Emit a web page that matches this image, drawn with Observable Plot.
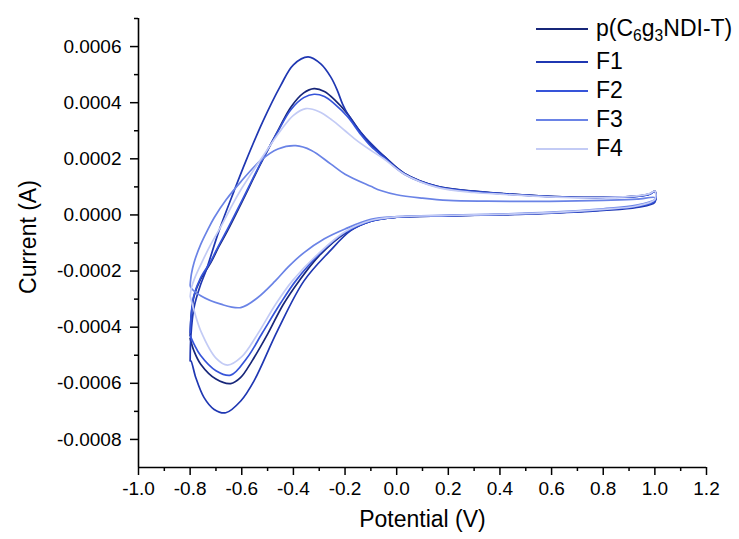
<!DOCTYPE html>
<html>
<head>
<meta charset="utf-8">
<script src="https://cdn.jsdelivr.net/npm/d3@7"></script>
<script src="https://cdn.jsdelivr.net/npm/@observablehq/plot@0.6"></script>
<style>
  html, body { margin: 0; padding: 0; background: #fff; }
  #wrap { position: relative; width: 739px; height: 539px; font-family: "Liberation Sans", Arial, sans-serif; }
  #legend { position: absolute; left: 536px; top: 14px; font-size: 23px; color: #000; }
  #legend .row { display: flex; align-items: center; height: 29px; white-space: nowrap; }
  #legend .row.first { margin-bottom: 4px; }
  #legend .sw { display: inline-block; width: 52px; height: 2px; margin-right: 8px; }
  #legend sub { font-size: 0.68em; vertical-align: -0.3em; line-height: 0; }
</style>
</head>
<body>
<div id="wrap"><div id="legend"></div></div>
<script>
// ---- series names & colours ----
const seriesNames = ["p(C6g3NDI-T)", "F1", "F2", "F3", "F4"];
const seriesLegend = ["p(C<sub>6</sub>g<sub>3</sub>NDI-T)", "F1", "F2", "F3", "F4"];
const seriesColors = ["#172679", "#1f37b2", "#3654d9", "#6a83e6", "#c3cbf5"];

// ---- ticks ----
const xMajor = [-1.0, -0.8, -0.6, -0.4, -0.2, 0.0, 0.2, 0.4, 0.6, 0.8, 1.0, 1.2];
const xMinor = [-0.9, -0.7, -0.5, -0.3, -0.1, 0.1, 0.3, 0.5, 0.7, 0.9, 1.1];
const yMajor = [-0.0008, -0.0006, -0.0004, -0.0002, 0.0, 0.0002, 0.0004, 0.0006];
const yMinor = [-0.0007, -0.0005, -0.0003, -0.0001, 0.0001, 0.0003, 0.0005, 0.0007];

// ---- p(C6g3NDI-T) ----
const pUpE = [-0.800,-0.795,-0.785,-0.760,-0.720,-0.690,-0.655,-0.600,-0.527,-0.460,-0.410,-0.360,-0.320,-0.280,-0.240,-0.190,-0.140,-0.100,-0.050,0.030,0.157,0.300,0.415,0.550,0.673,0.800,0.930,0.980,1.000];
const pUpI = [-4.3e-4,-3.5e-4,-2.9e-4,-2.3e-4,-1.7e-4,-1.15e-4,-5.6e-5,4.5e-5,1.82e-4,3.0e-4,3.84e-4,4.35e-4,4.5e-4,4.4e-4,4.1e-4,3.6e-4,2.95e-4,2.5e-4,2.1e-4,1.48e-4,1.02e-4,8.5e-5,7.6e-5,6.8e-5,6.4e-5,6.3e-5,6.7e-5,7.5e-5,8.5e-5];
const pLoE = [1.000,0.930,0.800,0.600,0.400,0.200,0.000,-0.100,-0.200,-0.300,-0.378,-0.440,-0.500,-0.560,-0.605,-0.643,-0.700,-0.759,-0.785,-0.800];
const pLoI = [5.0e-5,3.0e-5,1.8e-5,7e-6,1e-6,-3e-6,-8e-6,-2.2e-5,-6.5e-5,-1.45e-4,-2.35e-4,-3.2e-4,-4.25e-4,-5.2e-4,-5.8e-4,-6.01e-4,-5.85e-4,-5.32e-4,-4.85e-4,-4.4e-4];

// ---- F1 ----
const f1UpE = [-0.800,-0.797,-0.785,-0.760,-0.739,-0.688,-0.630,-0.585,-0.520,-0.450,-0.400,-0.343,-0.294,-0.255,-0.230,-0.210,-0.190,-0.140,-0.050,0.030,0.157,0.300,0.415,0.550,0.673,0.800,0.930,0.980,1.000];
const f1UpI = [-5.2e-4,-4.3e-4,-3.3e-4,-2.5e-4,-2.0e-4,-5.6e-5,8.5e-5,1.9e-4,3.3e-4,4.6e-4,5.35e-4,5.63e-4,5.38e-4,4.91e-4,4.44e-4,3.96e-4,3.6e-4,2.95e-4,2.1e-4,1.48e-4,1.02e-4,8.4e-5,7.5e-5,6.8e-5,6.4e-5,6.3e-5,6.6e-5,7.4e-5,8.3e-5];
const f1LoE = [1.000,0.930,0.800,0.600,0.400,0.200,0.000,-0.100,-0.178,-0.260,-0.359,-0.462,-0.553,-0.604,-0.662,-0.707,-0.746,-0.778,-0.797,-0.800];
const f1LoI = [4.5e-5,2.7e-5,1.6e-5,6e-6,0,-3e-6,-8e-6,-2.2e-5,-5.6e-5,-1.3e-4,-2.35e-4,-4.13e-4,-5.92e-4,-6.63e-4,-7.05e-4,-6.93e-4,-6.51e-4,-5.8e-4,-5.2e-4,-5.2e-4];

// ---- F2 ----
const f2UpE = [-0.800,-0.795,-0.785,-0.760,-0.720,-0.690,-0.655,-0.600,-0.527,-0.460,-0.410,-0.360,-0.320,-0.280,-0.240,-0.190,-0.140,-0.100,-0.050,0.030,0.157,0.300,0.415,0.550,0.673,0.800,0.930,0.980,1.000];
const f2UpI = [-4.2e-4,-3.45e-4,-2.85e-4,-2.25e-4,-1.65e-4,-1.1e-4,-5.0e-5,5.0e-5,1.85e-4,2.98e-4,3.75e-4,4.18e-4,4.3e-4,4.22e-4,3.95e-4,3.5e-4,2.88e-4,2.45e-4,2.05e-4,1.45e-4,1.0e-4,8.3e-5,7.5e-5,6.7e-5,6.3e-5,6.2e-5,6.6e-5,7.4e-5,8.4e-5];
const f2LoE = [1.000,0.930,0.800,0.600,0.400,0.200,0.000,-0.100,-0.200,-0.300,-0.391,-0.450,-0.520,-0.580,-0.643,-0.700,-0.760,-0.785,-0.800];
const f2LoI = [5.0e-5,3.0e-5,1.8e-5,7e-6,1e-6,-3e-6,-8e-6,-2.2e-5,-6.3e-5,-1.4e-4,-2.35e-4,-3.15e-4,-4.2e-4,-5.1e-4,-5.71e-4,-5.55e-4,-5.0e-4,-4.6e-4,-4.3e-4];

// ---- F3 ----
const f3UpE = [-0.800,-0.795,-0.785,-0.759,-0.733,-0.707,-0.660,-0.604,-0.527,-0.460,-0.391,-0.330,-0.256,-0.200,-0.100,-0.062,0.000,0.100,0.200,0.350,0.500,0.650,0.800,0.930,1.000];
const f3UpI = [-2.5e-4,-2.1e-4,-1.7e-4,-1.05e-4,-5.5e-5,-1.0e-5,5.5e-5,1.18e-4,1.94e-4,2.35e-4,2.47e-4,2.3e-4,1.82e-4,1.45e-4,1.02e-4,8.7e-5,7.2e-5,6.0e-5,5.2e-5,4.9e-5,4.8e-5,4.9e-5,5.2e-5,5.6e-5,6.2e-5];
const f3LoE = [1.000,0.930,0.800,0.600,0.400,0.200,0.000,-0.100,-0.200,-0.280,-0.360,-0.420,-0.470,-0.539,-0.604,-0.681,-0.759,-0.797,-0.800];
const f3LoI = [5.5e-5,3.5e-5,2.2e-5,1.0e-5,3e-6,-1e-6,-6e-6,-1.6e-5,-5.0e-5,-8.5e-5,-1.35e-4,-1.85e-4,-2.35e-4,-2.95e-4,-3.3e-4,-3.18e-4,-2.88e-4,-2.59e-4,-2.5e-4];

// ---- F4 ----
const f4UpE = [-0.800,-0.795,-0.780,-0.750,-0.720,-0.680,-0.640,-0.600,-0.525,-0.450,-0.400,-0.352,-0.300,-0.250,-0.200,-0.150,-0.100,-0.050,0.030,0.157,0.300,0.415,0.550,0.673,0.800,0.930,0.980,1.000];
const f4UpI = [-2.9e-4,-2.6e-4,-2.2e-4,-1.6e-4,-1.05e-4,-4.0e-5,3.0e-5,9.5e-5,2.0e-4,3.0e-4,3.55e-4,3.79e-4,3.68e-4,3.38e-4,3.0e-4,2.62e-4,2.3e-4,2.0e-4,1.45e-4,9.8e-5,8.0e-5,7.3e-5,6.6e-5,6.2e-5,6.2e-5,6.8e-5,7.6e-5,8.5e-5];
const f4LoE = [1.000,0.930,0.800,0.600,0.400,0.200,0.000,-0.100,-0.200,-0.300,-0.404,-0.470,-0.539,-0.600,-0.655,-0.700,-0.759,-0.785,-0.800];
const f4LoI = [5.5e-5,3.2e-5,2.0e-5,8e-6,2e-6,-2e-6,-7e-6,-2.0e-5,-6.0e-5,-1.35e-4,-2.35e-4,-3.2e-4,-4.25e-4,-5.05e-4,-5.35e-4,-5.1e-4,-4.13e-4,-3.4e-4,-2.9e-4];

// ---- build long table ----
const loops = [
  [pUpE, pUpI, pLoE, pLoI],
  [f1UpE, f1UpI, f1LoE, f1LoI],
  [f2UpE, f2UpI, f2LoE, f2LoI],
  [f3UpE, f3UpI, f3LoE, f3LoI],
  [f4UpE, f4UpI, f4LoE, f4LoI]
];
const data = [];
loops.forEach(([ue, ui, le, li], k) => {
  ue.forEach((e, i) => data.push({name: seriesNames[k], E: e, I: ui[i]}));
  le.forEach((e, i) => data.push({name: seriesNames[k], E: e, I: li[i]}));
});

const font = "'Liberation Sans', Arial, sans-serif";
const chart = Plot.plot({
  width: 739,
  height: 539,
  marginLeft: 138,
  marginRight: 33,
  marginTop: 18,
  marginBottom: 72,
  style: {fontFamily: font, fontSize: "19px", color: "#000", background: "#fff", overflow: "visible"},
  x: {domain: [-1, 1.2], label: null},
  y: {domain: [-0.0009, 0.0007], label: null},
  color: {domain: seriesNames, range: seriesColors},
  marks: [
    Plot.axisX({ticks: xMajor, tickSize: 8, tickPadding: 6, strokeWidth: 1.5, tickFormat: d => d.toFixed(1), label: null, fontSize: 19}),
    Plot.axisX({ticks: xMinor, tickSize: 4, strokeWidth: 1.5, tickFormat: () => "", label: null}),
    Plot.axisY({ticks: yMajor, tickSize: 8, tickPadding: 9, strokeWidth: 1.5, tickFormat: d => d.toFixed(4), label: null, fontSize: 19}),
    Plot.axisY({ticks: yMinor, tickSize: 4, strokeWidth: 1.5, tickFormat: () => "", label: null}),
    Plot.ruleX([-1], {strokeWidth: 1.6}),
    Plot.ruleY([-0.0009], {strokeWidth: 1.6}),
    Plot.line(data, {x: "E", y: "I", z: "name", stroke: "name", strokeWidth: 1.7, curve: "catmull-rom"}),
    Plot.text(["Potential (V)"], {frameAnchor: "bottom", dy: 59, fontSize: 23}),
    Plot.text(["Current (A)"], {frameAnchor: "left", textAnchor: "middle", dx: -110, dy: -6, rotate: -90, fontSize: 23})
  ]
});
const wrap = document.getElementById("wrap");
wrap.insertBefore(chart, wrap.firstChild);

const legend = document.getElementById("legend");
seriesNames.forEach((n, i) => {
  const row = document.createElement("div");
  row.className = "row" + (i === 0 ? " first" : "");
  row.innerHTML = `<span class="sw" style="background:${seriesColors[i]}"></span><span>${seriesLegend[i]}</span>`;
  legend.appendChild(row);
});
</script>
</body>
</html>
